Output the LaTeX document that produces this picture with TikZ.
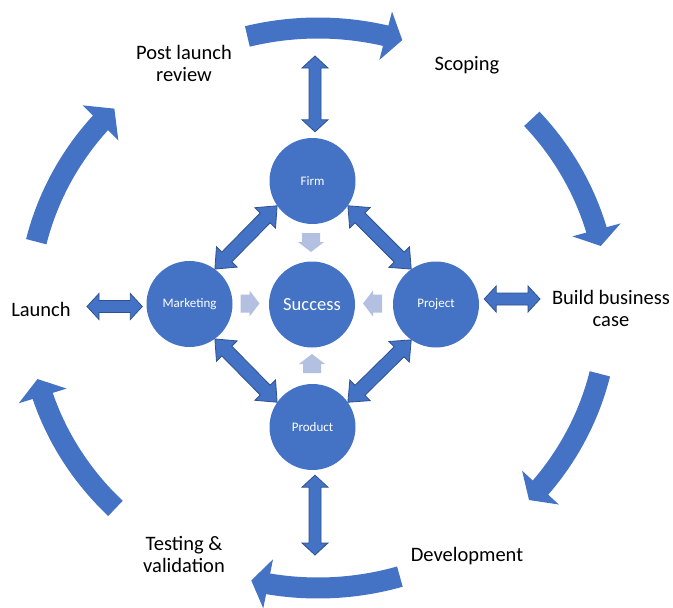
\documentclass[tikz,border=0pt]{standalone}
\usepackage{fontspec}
\setmainfont{Carlito}
\usetikzlibrary{calc}

\definecolor{hubblue}{HTML}{4472C4}
\definecolor{hubedge}{HTML}{2F528F}
\definecolor{feedblue}{HTML}{B3C0E2}

\tikzset{
  hub/.style={circle, fill=hubblue, minimum size=86pt, inner sep=0pt,
              text=white, font=\fontsize{13}{15}\selectfont},
  bighub/.style={hub, font=\fontsize{18.5}{21}\selectfont},
  stage/.style={text=black, align=center, inner sep=0pt,
                font=\fontsize{20.5}{22}\selectfont},
  cycleshaft/.style={draw=hubblue, line width=21pt},
  cyclefill/.style={fill=hubblue},
  twoway/.style={fill=hubblue, draw=hubedge, line width=0.8pt, line join=miter},
  feedfill/.style={fill=feedblue},
}

% curved stage arrow on the outer ring: tail angle, head-base angle, tip angle
\newcommand\cyclearrow[3]{%
  \draw[cycleshaft] ({318+290*cos(#1)},{308+280*sin(#1)})
    arc[start angle={-(#1)}, end angle={-(#2)-0.6}, x radius=290pt, y radius=280pt];
  \path ({318+290*cos(#2)},{308+280*sin(#2)}) coordinate (cy-b)
        ({318+290*cos(#3)},{308+280*sin(#3)}) coordinate (cy-t);
  \fill[cyclefill] (cy-t) -- ($(cy-b)!25pt!90:(cy-t)$) -- ($(cy-b)!25pt!-90:(cy-t)$) -- cycle;
}

% outlined block arrow with a head at both ends:
% from, to, head length, half head width, half shaft width
\newcommand\twoway[5]{%
  \path (#1) coordinate (tw-a) (#2) coordinate (tw-b);
  \path ($(tw-a)!#3pt!(tw-b)$) coordinate (tw-ha) ($(tw-b)!#3pt!(tw-a)$) coordinate (tw-hb);
  \draw[twoway] (tw-a) -- ($(tw-ha)!#4pt!90:(tw-b)$) -- ($(tw-ha)!#5pt!90:(tw-b)$)
    -- ($(tw-hb)!#5pt!-90:(tw-a)$) -- ($(tw-hb)!#4pt!-90:(tw-a)$) -- (tw-b)
    -- ($(tw-hb)!#4pt!90:(tw-a)$) -- ($(tw-hb)!#5pt!90:(tw-a)$)
    -- ($(tw-ha)!#5pt!-90:(tw-b)$) -- ($(tw-ha)!#4pt!-90:(tw-b)$) -- cycle;
}

% small pale block arrow pointing at the centre: position, direction
\newcommand\feedarrow[2]{%
  \fill[feedfill, shift={#1}, rotate=#2]
    (-9.5,-9) -- (-0.5,-9) -- (-0.5,-13) -- (9.5,0) -- (-0.5,13) -- (-0.5,9) -- (-9.5,9) -- cycle;
}

\begin{document}
\begin{tikzpicture}[x=1pt, y=-1pt]
  \useasboundingbox[fill=white] (0,0) rectangle (673,608);

  % outer cycle of stages
  \cyclearrow{-104.1}{-76.5}{-73.1}
  \cyclearrow{-42.5}{-16.2}{-12.8}
  \cyclearrow{13.6}{39.9}{43.3}
  \cyclearrow{73.6}{99.9}{103.3}
  \cyclearrow{134.3}{161.7}{165.3}
  \cyclearrow{193.7}{221.4}{225.4}

  % stage labels (base = baseline of the last line)
  \node[stage, anchor=base] (post) at (184,81) {Post launch\\review};
  \node[stage, anchor=base] (scope) at (467,70.7) {Scoping};
  \node[stage, anchor=base] (build) at (611,326) {Build business\\case};
  \node[stage, anchor=base] (dev) at (467,561.7) {Development};
  \node[stage, anchor=base] (test) at (184,572) {Testing \&\\validation};
  \node[stage, anchor=base] (launch) at (41,316) {Launch};

  % inner hubs
  \node[hub] (firm) at (312.5,181) {Firm};
  \node[hub] (marketing) at (189.5,304) {Marketing};
  \node[bighub] (success) at (312,304.5) {Success};
  \node[hub] (project) at (436,304.5) {Project};
  \node[hub] (product) at (312.5,427) {Product};

  % links between the hubs
  \twoway{marketing.54}{firm.215}{17}{14.5}{7}
  \twoway{firm.325}{project.125}{17}{14.5}{7}
  \twoway{project.235}{product.35}{17}{14.5}{7}
  \twoway{product.145}{marketing.306}{17}{14.5}{7}

  % links from the hubs to the outer stages
  \coordinate (topend) at (315,56);
  \coordinate (bottomend) at (315,555);
  \coordinate (leftend) at (87,306.5);
  \coordinate (rightend) at (540,299);
  \twoway{topend}{$(firm.north)+(2.5,-6)$}{12}{13}{6}
  \twoway{$(product.south)+(2.5,5)$}{bottomend}{12}{13}{6}
  \twoway{leftend}{$(marketing.west)+(-4,2.5)$}{12}{13}{6}
  \twoway{$(project.east)+(5,-5.5)$}{rightend}{12}{13}{6}

  % contributions flowing into success
  \feedarrow{(311,242.5)}{-90}
  \feedarrow{(250,303.5)}{0}
  \feedarrow{(372.5,303.5)}{180}
  \feedarrow{(312,363.5)}{90}
\end{tikzpicture}
\end{document}
